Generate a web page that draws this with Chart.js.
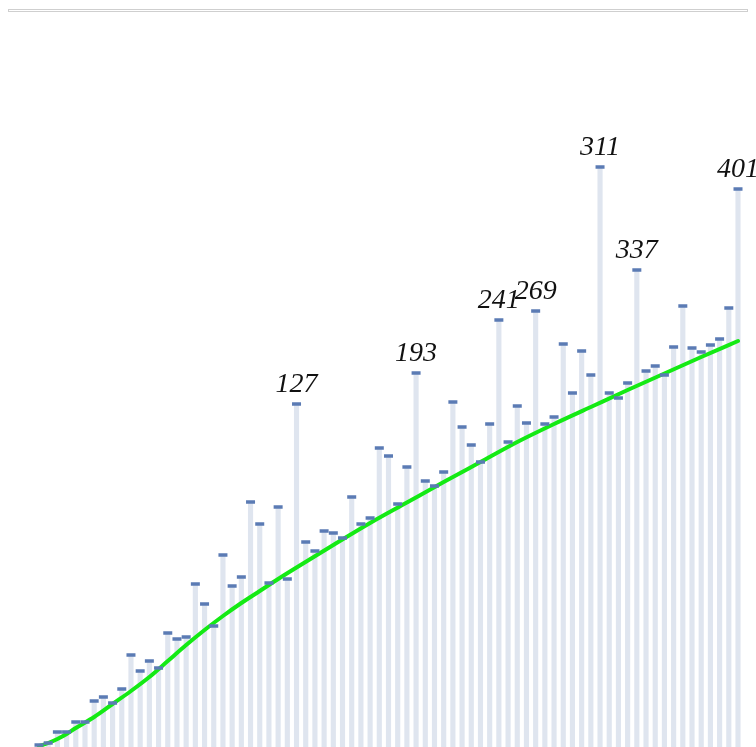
<!DOCTYPE html>
<html>
<head>
<meta charset="utf-8">
<title>Primes 5–401</title>
<script src="https://cdn.jsdelivr.net/npm/chart.js@4/dist/chart.umd.min.js"></script>
<style>
  html, body { margin: 0; padding: 0; background: #ffffff; }
  #wrap { width: 756px; height: 747px; position: relative; }
  canvas { display: block; }
</style>
</head>
<body>
<div id="wrap"><canvas id="chart" width="756" height="747"></canvas></div>
<script>
// Categories: the primes from 5 to 401
const primes = [5, 7, 11, 13, 17, 19, 23, 29, 31, 37, 41, 43, 47, 53, 59, 61, 67, 71, 73, 79,
  83, 89, 97, 101, 103, 107, 109, 113, 127, 131, 137, 139, 149, 151, 157, 163, 167, 173, 179, 181,
  191, 193, 197, 199, 211, 223, 227, 229, 233, 239, 241, 251, 257, 263, 269, 271, 277, 281, 283, 293,
  307, 311, 313, 317, 331, 337, 347, 349, 353, 359, 367, 373, 379, 383, 389, 397, 401];

// Bar values, one per prime
const values = [2, 4, 15, 15, 25, 25, 46, 50, 44, 58, 92, 76, 86, 79, 114, 108, 110, 163, 143, 121,
  192, 161, 170, 245, 223, 164, 240, 168, 343, 205, 196, 216, 214, 209, 250, 223, 229, 299, 291, 243,
  280, 374, 266, 261, 275, 345, 320, 302, 285, 323, 427, 305, 341, 324, 436, 323, 330, 403, 354, 396,
  372, 580, 354, 349, 364, 477, 376, 381, 372, 400, 441, 399, 395, 402, 408, 439, 558];

// Trend curve knots (null = no knot at that prime; the curve spans across)
const trend = [1, 4, 8, 13, 19, null, 30, null, 43, null, 56, null, 70, null, 86, null, 102, null, 117, null,
  131, null, 144, null, 156, null, 168, null, 179.5, null, null, null, 202, null, null, null, 224, null, null, null,
  244.5, null, null, null, 265, null, null, null, 285, null, null, null, 305, null, null, null, 323, null, null, null,
  340, null, null, null, 357, null, null, null, 373.5, null, null, null, 390, null, null, null, 406];

// Primes whose bars carry a label
const labelled = [127, 193, 241, 269, 311, 337, 401];

const frameBox = {
  id: 'frameBox',
  beforeDraw(chart) {
    const ctx = chart.ctx;
    ctx.save();
    ctx.fillStyle = '#ffffff';
    ctx.fillRect(0, 0, chart.width, chart.height);
    ctx.strokeStyle = '#cfcfcf';
    ctx.lineWidth = 1;
    ctx.strokeRect(8.5, 9.5, 739, 2);
    ctx.restore();
  }
};

const primeLabels = {
  id: 'primeLabels',
  afterDatasetsDraw(chart) {
    const ctx = chart.ctx;
    const xs = chart.scales.x, ys = chart.scales.y;
    ctx.save();
    ctx.font = 'italic 28px "Liberation Serif", "DejaVu Serif", serif';
    ctx.fillStyle = '#111111';
    ctx.textAlign = 'center';
    ctx.textBaseline = 'alphabetic';
    labelled.forEach(p => {
      const i = primes.indexOf(p);
      if (i < 0) return;
      const x = xs.getPixelForValue(i);
      const y = ys.getPixelForValue(values[i]);
      ctx.fillText(String(p), x, y - 12);
    });
    ctx.restore();
  }
};

new Chart(document.getElementById('chart'), {
  type: 'bar',
  data: {
    labels: primes.map(String),
    datasets: [
      {
        type: 'line',
        data: values,
        showLine: false,
        pointStyle: 'line',
        pointRadius: 4.5,
        pointBorderWidth: 3.5,
        pointBorderColor: '#5b7bb4',
        pointBackgroundColor: '#5b7bb4',
        pointHoverRadius: 4.5,
        order: 1
      },
      {
        type: 'line',
        data: trend,
        spanGaps: true,
        borderColor: '#14ea14',
        borderWidth: 4,
        borderCapStyle: 'round',
        pointRadius: 0,
        fill: false,
        cubicInterpolationMode: 'monotone',
        order: 2
      },
      {
        type: 'bar',
        data: values,
        backgroundColor: '#dfe5ef',
        borderWidth: 0,
        categoryPercentage: 1,
        barPercentage: 0.56,
        order: 3
      }
    ]
  },
  options: {
    responsive: false,
    animation: false,
    devicePixelRatio: 1,
    layout: { autoPadding: false, padding: { top: 147, bottom: 0, left: 34.4, right: 13.4 } },
    plugins: {
      legend: { display: false },
      tooltip: { enabled: false },
      title: { display: false }
    },
    scales: {
      x: { display: false, offset: true },
      y: { display: false, min: 0, max: 600 }
    }
  },
  plugins: [frameBox, primeLabels]
});
</script>
</body>
</html>
